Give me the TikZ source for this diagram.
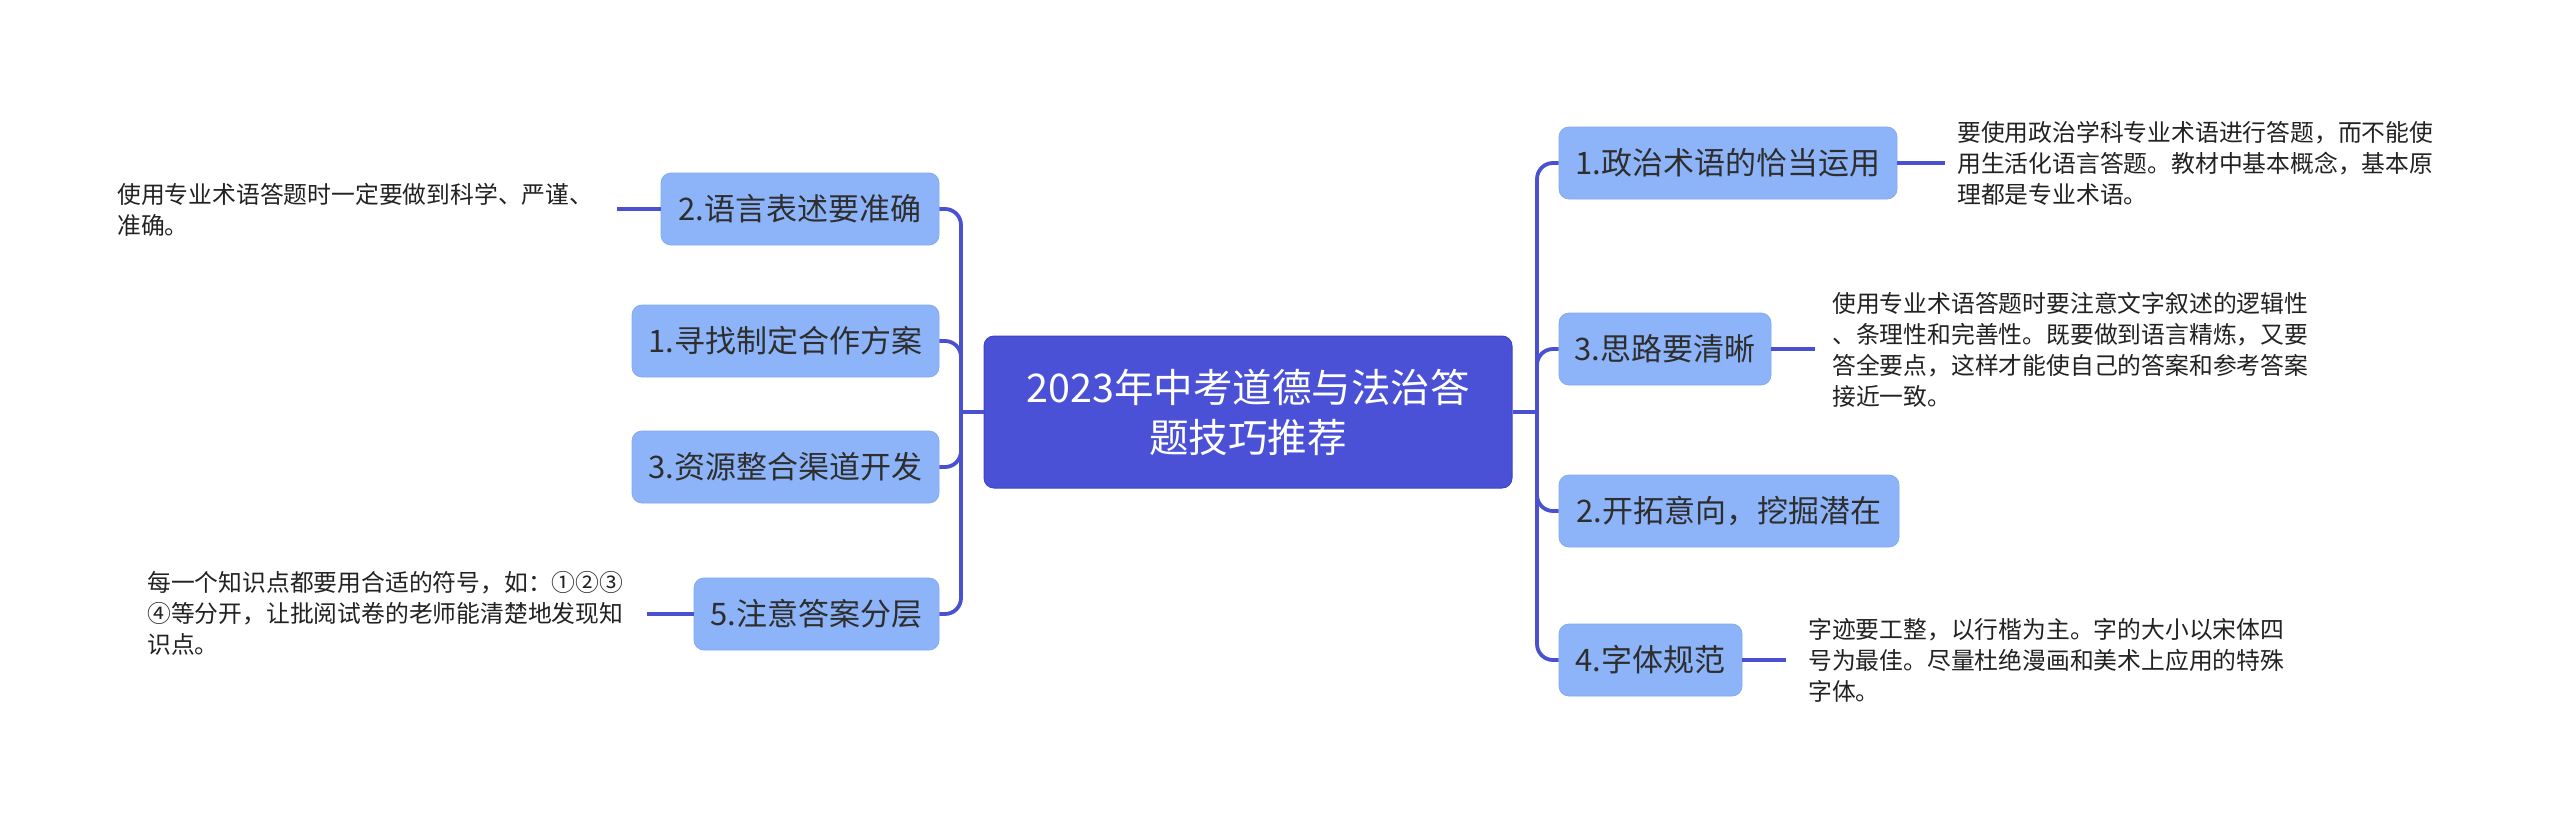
\documentclass[tikz,border=0pt]{standalone}
\usepackage{fontspec}
\setmainfont{Noto Sans CJK SC}
\definecolor{rootfill}{HTML}{4A51D6}
\definecolor{rootborder}{HTML}{3E45BE}
\definecolor{cline}{HTML}{4A51D0}
\definecolor{lightnode}{HTML}{8DB4F9}
\definecolor{lightborder}{HTML}{82AAF2}
\definecolor{textdark}{HTML}{2E2E2E}
\definecolor{leaftext}{HTML}{222222}
\begin{document}
\begin{tikzpicture}[x=1pt,y=-1pt,
  conn/.style={draw=cline, line width=3.8pt, rounded corners=16pt},
  root/.style={fill=rootfill, draw=rootborder, line width=1pt, rounded corners=10pt, text=white, align=center, inner sep=0pt, font=\fontsize{39.5}{50}\selectfont},
  topic/.style={fill=lightnode, draw=lightborder, line width=0.8pt, rounded corners=10pt, minimum height=72pt, text=textdark, inner sep=0pt, font=\fontsize{31}{36}\selectfont},
  leaf/.style={anchor=west, align=left, inner sep=0pt, text=leaftext, font=\fontsize{23.8}{31}\selectfont}
]
\useasboundingbox (0,0) rectangle (2560,825);
\fill[white] (0,0) rectangle (2560,825);

% root
\node[root, minimum width=528pt, minimum height=152pt] (c) at (1248,412) {2023年中考道德与法治答\\题技巧推荐};

% left topics
\node[topic, minimum width=278pt] (L2) at (800,209) {2.语言表述要准确};
\node[topic, minimum width=307pt] (L1) at (785.5,341) {1.寻找制定合作方案};
\node[topic, minimum width=307pt] (L3) at (785.5,467) {3.资源整合渠道开发};
\node[topic, minimum width=245pt] (L5) at (816.5,614) {5.注意答案分层};

% right topics
\node[topic, minimum width=338pt] (R1) at (1728,163) {1.政治术语的恰当运用};
\node[topic, minimum width=212pt] (R3) at (1665,349) {3.思路要清晰};
\node[topic, minimum width=340pt] (R2) at (1729,511) {2.开拓意向，挖掘潜在};
\node[topic, minimum width=183pt] (R4) at (1650.5,660) {4.字体规范};

% leaf texts
\node[leaf] (tL2) at (117,210) {使用专业术语答题时一定要做到科学、严谨、\\准确。};
\node[leaf] (tL5) at (147,613) {每一个知识点都要用合适的符号，如：①②③\\④等分开，让批阅试卷的老师能清楚地发现知\\识点。};
\node[leaf] (tR1) at (1957,163) {要使用政治学科专业术语进行答题，而不能使\\用生活化语言答题。教材中基本概念，基本原\\理都是专业术语。};
\node[leaf] (tR3) at (1832,350) {使用专业术语答题时要注意文字叙述的逻辑性\\、条理性和完善性。既要做到语言精炼，又要\\答全要点，这样才能使自己的答案和参考答案\\接近一致。};
\node[leaf] (tR4) at (1808,660) {字迹要工整，以行楷为主。字的大小以宋体四\\号为最佳。尽量杜绝漫画和美术上应用的特殊\\字体。};

% trunk coordinates
\coordinate (tL) at (961,412);
\coordinate (tR) at (1537,412);

% connectors root -> topics
\draw[conn] (c.west) -- (tL);
\draw[conn] (c.east) -- (tR);
\draw[conn] (tL) |- (L2.east);
\draw[conn] (tL) |- (L1.east);
\draw[conn] (tL) |- (L3.east);
\draw[conn] (tL) |- (L5.east);
\draw[conn] (tR) |- (R1.west);
\draw[conn] (tR) |- (R3.west);
\draw[conn] (tR) |- (R2.west);
\draw[conn] (tR) |- (R4.west);

% connectors topics -> leaf texts
\coordinate (eL2) at (617,209);
\coordinate (eL5) at (647,614);
\coordinate (eR1) at (1945,163);
\coordinate (eR3) at (1815,349);
\coordinate (eR4) at (1786,660);
\draw[conn] (L2.west) -- (eL2);
\draw[conn] (L5.west) -- (eL5);
\draw[conn] (R1.east) -- (eR1);
\draw[conn] (R3.east) -- (eR3);
\draw[conn] (R4.east) -- (eR4);
\end{tikzpicture}
\end{document}
